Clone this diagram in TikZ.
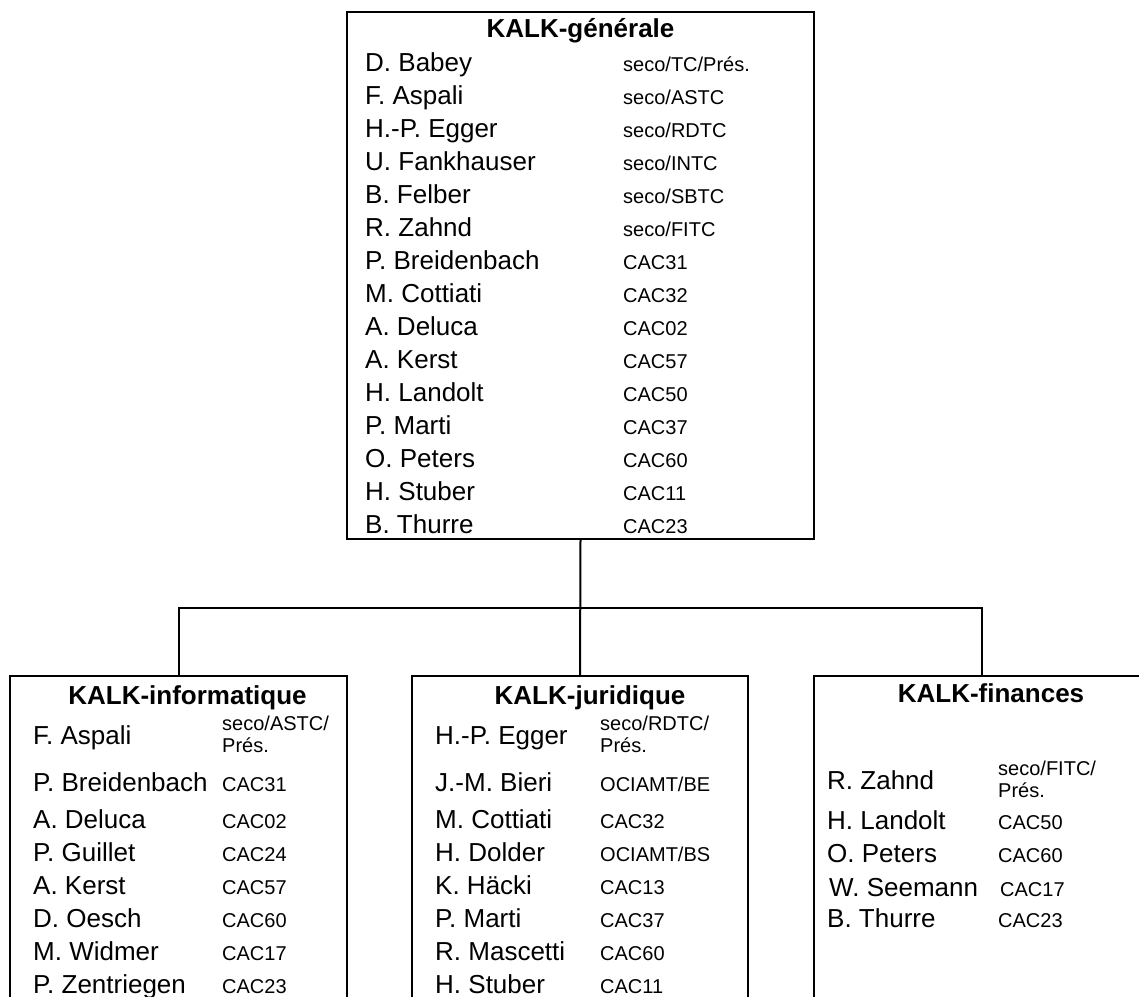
\documentclass[tikz,border=0pt]{standalone}
\usepackage{fontspec}
\setmainfont{Liberation Sans}
\begin{document}
\begin{tikzpicture}[x=1pt,y=-1pt,
  box/.style={draw, line width=2.5pt, inner sep=0pt, outer sep=0pt},
  ttl/.style={font=\bfseries\fontsize{26}{30}\selectfont, anchor=base, inner sep=0pt},
  nm/.style={font=\fontsize{26}{30}\selectfont, anchor=base west, inner sep=0pt},
  cd/.style={font=\fontsize{20}{22}\selectfont, anchor=base west, inner sep=0pt},
  link/.style={line width=2pt}]
\useasboundingbox (0,0) rectangle (1139,996);
\clip (0,0) rectangle (1139,996);
% boxes
\node[box, minimum width=467pt, minimum height=527pt] (gen) at (580.5,275.5) {};
\node[box, minimum width=337pt, minimum height=344pt] (inf) at (178.5,848) {};
\node[box, minimum width=336pt, minimum height=344pt] (jur) at (580,848) {};
\node[box, minimum width=336pt, minimum height=344pt] (fin) at (982,848) {};
% connectors
\coordinate (hub) at (580.5,608);
\draw[link] (gen.south) -- (jur.north);
\draw[link] (inf.north) |- (hub) -| (fin.north);
% KALK-generale
\node[ttl] (t0) at (580.5,37) {KALK-générale};
\node[nm] (g1) at (365,71.3) {D. Babey};        \node[cd] (c1) at (623,71.3) {seco/TC/Prés.};
\node[nm] (g2) at (365,104.3) {F. Aspali};      \node[cd] (c2) at (623,104.3) {seco/ASTC};
\node[nm] (g3) at (365,137.3) {H.-P. Egger};    \node[cd] (c3) at (623,137.3) {seco/RDTC};
\node[nm] (g4) at (365,170.3) {U. Fankhauser};  \node[cd] (c4) at (623,170.3) {seco/INTC};
\node[nm] (g5) at (365,203.3) {B. Felber};      \node[cd] (c5) at (623,203.3) {seco/SBTC};
\node[nm] (g6) at (365,236.3) {R. Zahnd};       \node[cd] (c6) at (623,236.3) {seco/FITC};
\node[nm] (g7) at (365,269.3) {P. Breidenbach}; \node[cd] (c7) at (623,269.3) {CAC31};
\node[nm] (g8) at (365,302.3) {M. Cottiati};    \node[cd] (c8) at (623,302.3) {CAC32};
\node[nm] (g9) at (365,335.3) {A. Deluca};      \node[cd] (c9) at (623,335.3) {CAC02};
\node[nm] (g10) at (365,368.3) {A. Kerst};      \node[cd] (c10) at (623,368.3) {CAC57};
\node[nm] (g11) at (365,401.3) {H. Landolt};    \node[cd] (c11) at (623,401.3) {CAC50};
\node[nm] (g12) at (365,434.3) {P. Marti};      \node[cd] (c12) at (623,434.3) {CAC37};
\node[nm] (g13) at (365,467.3) {O. Peters};     \node[cd] (c13) at (623,467.3) {CAC60};
\node[nm] (g14) at (365,500.3) {H. Stuber};     \node[cd] (c14) at (623,500.3) {CAC11};
\node[nm] (g15) at (365,533.3) {B. Thurre};     \node[cd] (c15) at (623,533.3) {CAC23};
% KALK-informatique
\node[ttl] (ti) at (187.5,704) {KALK-informatique};
\node[nm] (i1) at (33,744) {F. Aspali};      \node[cd] (ic1a) at (222,730) {seco/ASTC/}; \node[cd] (ic1b) at (222,752) {Prés.};
\node[nm] (i2) at (33,791) {P. Breidenbach}; \node[cd] (ic2) at (222,791) {CAC31};
\node[nm] (i3) at (33,828) {A. Deluca};      \node[cd] (ic3) at (222,828) {CAC02};
\node[nm] (i4) at (33,861) {P. Guillet};     \node[cd] (ic4) at (222,861) {CAC24};
\node[nm] (i5) at (33,894) {A. Kerst};       \node[cd] (ic5) at (222,894) {CAC57};
\node[nm] (i6) at (33,927) {D. Oesch};       \node[cd] (ic6) at (222,927) {CAC60};
\node[nm] (i7) at (33,960) {M. Widmer};      \node[cd] (ic7) at (222,960) {CAC17};
\node[nm] (i8) at (33,993) {P. Zentriegen};  \node[cd] (ic8) at (222,993) {CAC23};
% KALK-juridique
\node[ttl] (tj) at (590,704) {KALK-juridique};
\node[nm] (j1) at (435,744) {H.-P. Egger};   \node[cd] (jc1a) at (600,730) {seco/RDTC/}; \node[cd] (jc1b) at (600,752) {Prés.};
\node[nm] (j2) at (435,791) {J.-M. Bieri};   \node[cd] (jc2) at (600,791) {OCIAMT/BE};
\node[nm] (j3) at (435,828) {M. Cottiati};   \node[cd] (jc3) at (600,828) {CAC32};
\node[nm] (j4) at (435,861) {H. Dolder};     \node[cd] (jc4) at (600,861) {OCIAMT/BS};
\node[nm] (j5) at (435,894) {K. Häcki};      \node[cd] (jc5) at (600,894) {CAC13};
\node[nm] (j6) at (435,927) {P. Marti};      \node[cd] (jc6) at (600,927) {CAC37};
\node[nm] (j7) at (435,960) {R. Mascetti};   \node[cd] (jc7) at (600,960) {CAC60};
\node[nm] (j8) at (435,993) {H. Stuber};     \node[cd] (jc8) at (600,993) {CAC11};
% KALK-finances
\node[ttl] (tf) at (991,702) {KALK-finances};
\node[nm] (f1) at (827,789) {R. Zahnd};      \node[cd] (fc1a) at (998,775) {seco/FITC/}; \node[cd] (fc1b) at (998,797) {Prés.};
\node[nm] (f2) at (827,829) {H. Landolt};    \node[cd] (fc2) at (998,829) {CAC50};
\node[nm] (f3) at (827,862) {O. Peters};     \node[cd] (fc3) at (998,862) {CAC60};
\node[nm] (f4) at (829,896) {W. Seemann};    \node[cd] (fc4) at (1000,896) {CAC17};
\node[nm] (f5) at (827,927) {B. Thurre};     \node[cd] (fc5) at (998,927) {CAC23};
\end{tikzpicture}
\end{document}
